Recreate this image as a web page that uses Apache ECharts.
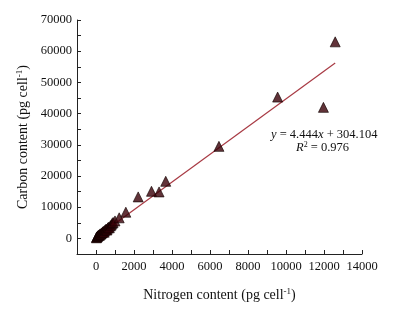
<!DOCTYPE html>
<html>
<head>
<meta charset="utf-8">
<script src="https://cdn.jsdelivr.net/npm/echarts@6/dist/echarts.min.js"></script>
<style>
  html, body { margin: 0; padding: 0; background: #fff; }
  #chart { width: 405px; height: 311px; }
</style>
</head>
<body>
<div id="chart"></div>
<script>
// nitrogen (x) and carbon (y) per cell
const nitrogen = [20, 40, 60, 80, 100, 120, 150, 180, 200, 230, 260, 300, 330, 360, 400, 430, 470, 500, 540, 580, 620, 650, 700, 750, 800, 850, 900, 1000, 1220, 1570, 2220, 2920, 3320, 3670, 6470, 9560, 11970, 12590];
const carbon   = [200, 400, 500, 700, 800, 900, 1100, 1000, 1300, 1500, 1400, 1700, 1900, 2100, 2300, 2000, 2600, 2800, 3000, 2700, 3300, 3600, 3400, 4000, 4300, 4800, 5100, 5600, 6600, 8400, 13300, 15100, 14900, 18300, 29500, 45300, 42000, 63000];
const fitLine  = [[0, 304], [12590, 56250]];

const points = nitrogen.map((n, i) => [n, carbon[i]]);
const serif = '"Liberation Serif", "DejaVu Serif", serif';

const nameRich = {
    a: { fontFamily: serif, fontSize: 14, color: '#111' },
    s: { fontFamily: serif, fontSize: 9, color: '#111', verticalAlign: 'top', padding: [0, 0, 7, 0] }
};

const chart = echarts.init(document.getElementById('chart'));
chart.setOption({
    animation: false,
    grid: { left: 77, right: 43, top: 20, bottom: 57 },
    xAxis: {
        type: 'value',
        min: -1000,
        max: 14000,
        interval: 1000,
        name: '{a|Nitrogen content (pg cell}{s|-1}{a|)}',
        nameLocation: 'middle',
        nameGap: 33,
        nameTextStyle: { rich: nameRich },
        axisLine: { onZero: false, lineStyle: { color: '#222', width: 1 } },
        axisTick: { inside: true, length: 4, lineStyle: { color: '#222' } },
        axisLabel: {
            fontFamily: serif, fontSize: 12.5, color: '#111', margin: 6,
            formatter: v => (v >= 0 && v % 2000 === 0) ? String(v) : ''
        },
        splitLine: { show: false }
    },
    yAxis: {
        type: 'value',
        min: -5000,
        max: 70000,
        interval: 5000,
        name: '{a|Carbon content (pg cell}{s|-1}{a|)}',
        nameLocation: 'middle',
        nameGap: 45,
        nameRotate: 90,
        nameTextStyle: { rich: nameRich },
        axisLine: { show: true, onZero: false, lineStyle: { color: '#222', width: 1 } },
        axisTick: { show: true, inside: true, length: 4, lineStyle: { color: '#222' } },
        axisLabel: {
            fontFamily: serif, fontSize: 12.5, color: '#111', margin: 5,
            formatter: v => (v >= 0 && v % 10000 === 0) ? String(v) : ''
        },
        splitLine: { show: false }
    },
    series: [
        {
            type: 'line',
            data: fitLine,
            symbol: 'none',
            lineStyle: { color: '#a83a44', width: 1.2 },
            z: 3
        },
        {
            type: 'scatter',
            data: points,
            symbol: 'triangle',
            symbolSize: 10,
            itemStyle: { color: '#3a0008', borderColor: '#120000', borderWidth: 0.8 },
            z: 4
        }
    ],
    graphic: [
        {
            type: 'text',
            left: 271,
            top: 128,
            style: {
                text: '{i|y} = 4.444{i|x} + 304.104',
                fill: '#111',
                font: '12.5px ' + serif,
                rich: { i: { fontStyle: 'italic', fontFamily: serif, fontSize: 12.5, fill: '#111' } }
            }
        },
        {
            type: 'text',
            left: 296,
            top: 141,
            style: {
                text: '{i|R}{s|2} = 0.976',
                fill: '#111',
                font: '12.5px ' + serif,
                rich: {
                    i: { fontStyle: 'italic', fontFamily: serif, fontSize: 12.5, fill: '#111' },
                    s: { fontFamily: serif, fontSize: 8, fill: '#111', verticalAlign: 'top', padding: [0, 0, 5, 0] }
                }
            }
        }
    ]
});
</script>
</body>
</html>
